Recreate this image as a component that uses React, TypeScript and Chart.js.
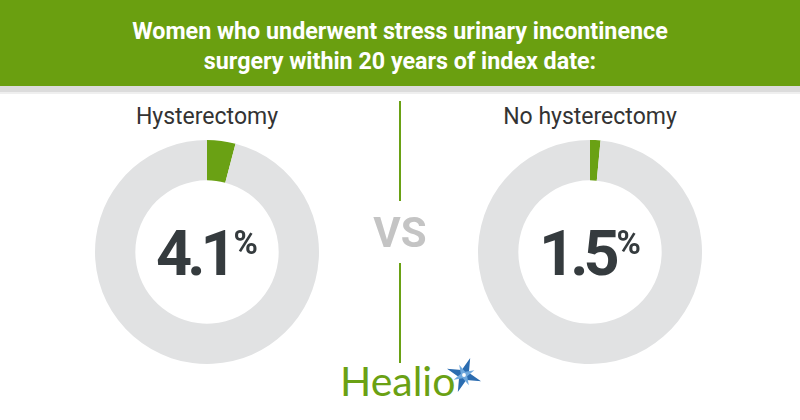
import React, { useEffect, useRef } from "react";
import { Chart, registerables } from "chart.js";

Chart.register(...registerables);

const titleLines = [
  "Women who underwent stress urinary incontinence",
  "surgery within 20 years of index date:",
];
const groups = ["Hysterectomy", "No hysterectomy"];
const surgeryPct = [4.1, 1.5];
const sliceLabels = ["Underwent surgery", "Did not"];
const centerX = [207, 590];

const GREEN = "#6aa114";
const HEADER_GREEN = "#6a9f10";
const GRAY = "#e1e2e3";
const DARK = "#353b3e";

function Donut({ pct, cx }: { pct: number; cx: number }) {
  const ref = useRef<HTMLCanvasElement | null>(null);
  useEffect(() => {
    if (!ref.current) return;
    const chart = new Chart(ref.current, {
      type: "doughnut",
      data: {
        labels: sliceLabels,
        datasets: [
          {
            data: [pct, 100 - pct],
            backgroundColor: [GREEN, GRAY],
            borderWidth: 0,
          },
        ],
      },
      options: {
        responsive: false,
        maintainAspectRatio: false,
        animation: false,
        cutout: "64%",
        events: [],
        layout: { padding: 0 },
        plugins: { legend: { display: false }, tooltip: { enabled: false } },
      },
    });
    return () => chart.destroy();
  }, [pct]);
  const size = 224;
  return (
    <canvas
      ref={ref}
      width={size}
      height={size}
      style={{ position: "absolute", left: cx - size / 2, top: 251.5 - size / 2, width: size, height: size }}
    />
  );
}

export default function App() {
  const abs: React.CSSProperties = { position: "absolute" };
  return (
    <div
      style={{
        position: "fixed",
        left: 0,
        top: 0,
        width: 800,
        height: 420,
        background: "#ffffff",
        overflow: "hidden",
        fontFamily: "Roboto, sans-serif",
      }}
    >
      <div style={{ ...abs, left: 0, top: 0, width: 800, height: 86, background: HEADER_GREEN }} />
      <div style={{ ...abs, left: 0, top: 86, width: 800, height: 6, background: "#dcdcdc" }} />
      <div style={{ ...abs, left: 0, top: 92, width: 800, height: 2, background: "#efefef" }} />
      <div
        style={{
          ...abs,
          left: 0,
          top: 16,
          width: 800,
          textAlign: "center",
          color: "#ffffff",
          fontFamily: "Roboto, sans-serif",
          fontWeight: 700,
          fontSize: 24,
          lineHeight: "30px",
          transform: "scaleX(0.97)",
          transformOrigin: "400px 0",
        }}
      >
        {titleLines.map((t, i) => (
          <div key={i}>{t}</div>
        ))}
      </div>

      {groups.map((g, i) => (
        <React.Fragment key={g}>
          <div
            style={{
              ...abs,
              left: centerX[i] - 150,
              width: 300,
              top: 105,
              textAlign: "center",
              fontSize: 23,
              lineHeight: "23px",
              color: "#333333",
            }}
          >
            {g}
          </div>
          <Donut pct={surgeryPct[i]} cx={centerX[i]} />
          <div
            style={{
              ...abs,
              left: centerX[i] - 100,
              width: 200,
              top: 222,
              display: "flex",
              justifyContent: "center",
              alignItems: "flex-start",
              color: DARK,
              fontWeight: 700,
            }}
          >
            <span style={{ fontSize: 63, lineHeight: "63px", letterSpacing: -5 }}>{surgeryPct[i].toFixed(1)}</span>
            <span style={{ fontSize: 33, lineHeight: "33px", marginTop: 4, marginLeft: 2 }}>%</span>
          </div>
        </React.Fragment>
      ))}

      <div style={{ ...abs, left: 399, top: 101, width: 2, height: 100, background: GREEN }} />
      <div style={{ ...abs, left: 399, top: 263, width: 2, height: 100, background: GREEN }} />
      <div
        style={{
          ...abs,
          left: 350,
          width: 100,
          top: 212,
          textAlign: "center",
          fontSize: 42,
          lineHeight: "42px",
          fontWeight: 700,
          color: "#c4c4c4",
        }}
      >
        VS
      </div>

      <div
        style={{
          ...abs,
          left: 340,
          top: 360,
          fontFamily: "Lato, sans-serif",
          fontSize: 41,
          lineHeight: "41px",
          color: GREEN,
        }}
      >
        Healio
      </div>
      <svg style={{ ...abs, left: 444, top: 355, width: 40, height: 40 }} viewBox="0 0 42 42">
        <polygon points="21,2 25,17 40,21 25,25 21,40 17,25 2,21 17,17" fill="#2b6cb0" transform="rotate(20 21 21)" />
        <polygon points="21,9 23.5,18.5 33,21 23.5,23.5 21,33 18.5,23.5 9,21 18.5,18.5" fill="#6fa8dc" transform="rotate(65 21 21)" />
        <circle cx="21" cy="21" r="2" fill="#ffffff" />
      </svg>
    </div>
  );
}
